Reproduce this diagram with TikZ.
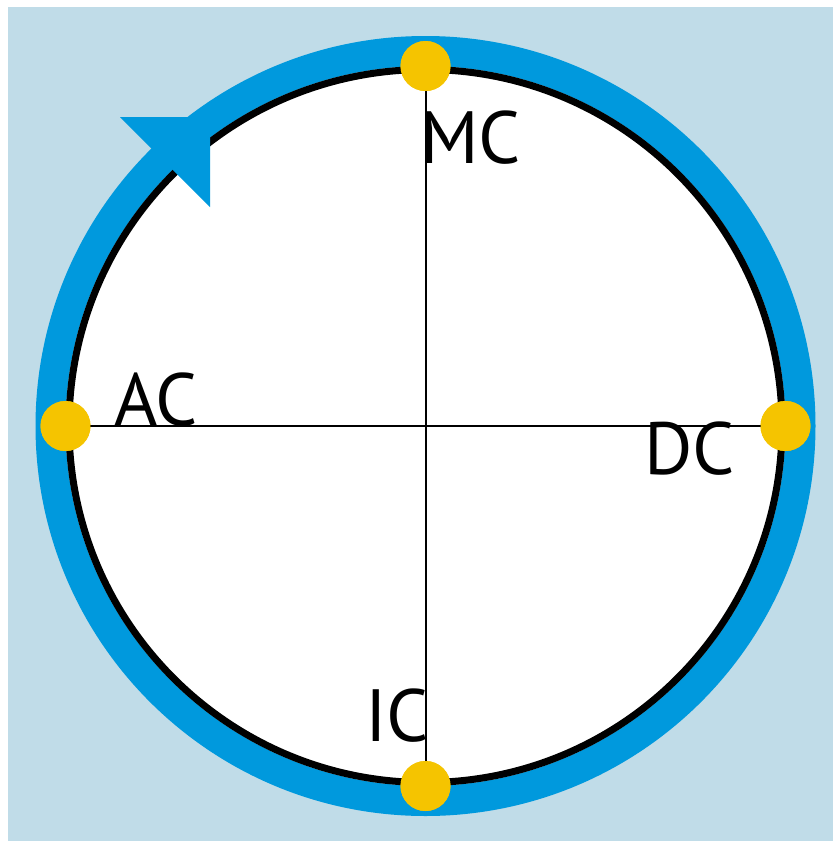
\documentclass[tikz,border=0pt]{standalone}
\usepackage{fontspec}
\setmainfont{PT Sans}
\definecolor{bgblue}{RGB}{192,220,232}
\definecolor{ringblue}{RGB}{0,153,221}
\definecolor{dotyellow}{RGB}{245,196,0}
\begin{document}
\begin{tikzpicture}[x=1pt,y=-1pt,
  dot/.style={circle,fill=dotyellow,minimum size=50pt,inner sep=0pt},
  axis/.style={line width=2pt,black},
  lbl/.style={font=\fontsize{74}{74}\selectfont,inner sep=0pt,anchor=base west}]
\useasboundingbox (0,0) rectangle (833,841);
\fill[bgblue] (8,7) rectangle (833,841);
\coordinate (O) at (425.5,426);
\fill[white] (O) circle[radius=358pt];
\draw[ringblue,line width=30pt] (O) circle[radius=375pt];
\draw[black,line width=7pt] (O) circle[radius=356.5pt];
\fill[ringblue] (210,117) -- (120,117) -- (210,207) -- cycle;
\node[dot] (mc) at (425.5,66) {};
\node[dot] (ic) at (425.5,786) {};
\node[dot] (ac) at (65.5,426) {};
\node[dot] (dc) at (785.5,426) {};
\draw[axis] (mc.center) -- (ic.center);
\draw[axis] (ac.center) -- (dc.center);
\fill[dotyellow] (mc) circle[radius=25pt] (ic) circle[radius=25pt] (ac) circle[radius=25pt] (dc) circle[radius=25pt];
\node[lbl] (tmc) at (420,163) {MC};
\node[lbl] (tac) at (114,425) {AC};
\node[lbl] (tdc) at (644,474) {DC};
\node[lbl] (tic) at (365,741) {IC};
\end{tikzpicture}
\end{document}
